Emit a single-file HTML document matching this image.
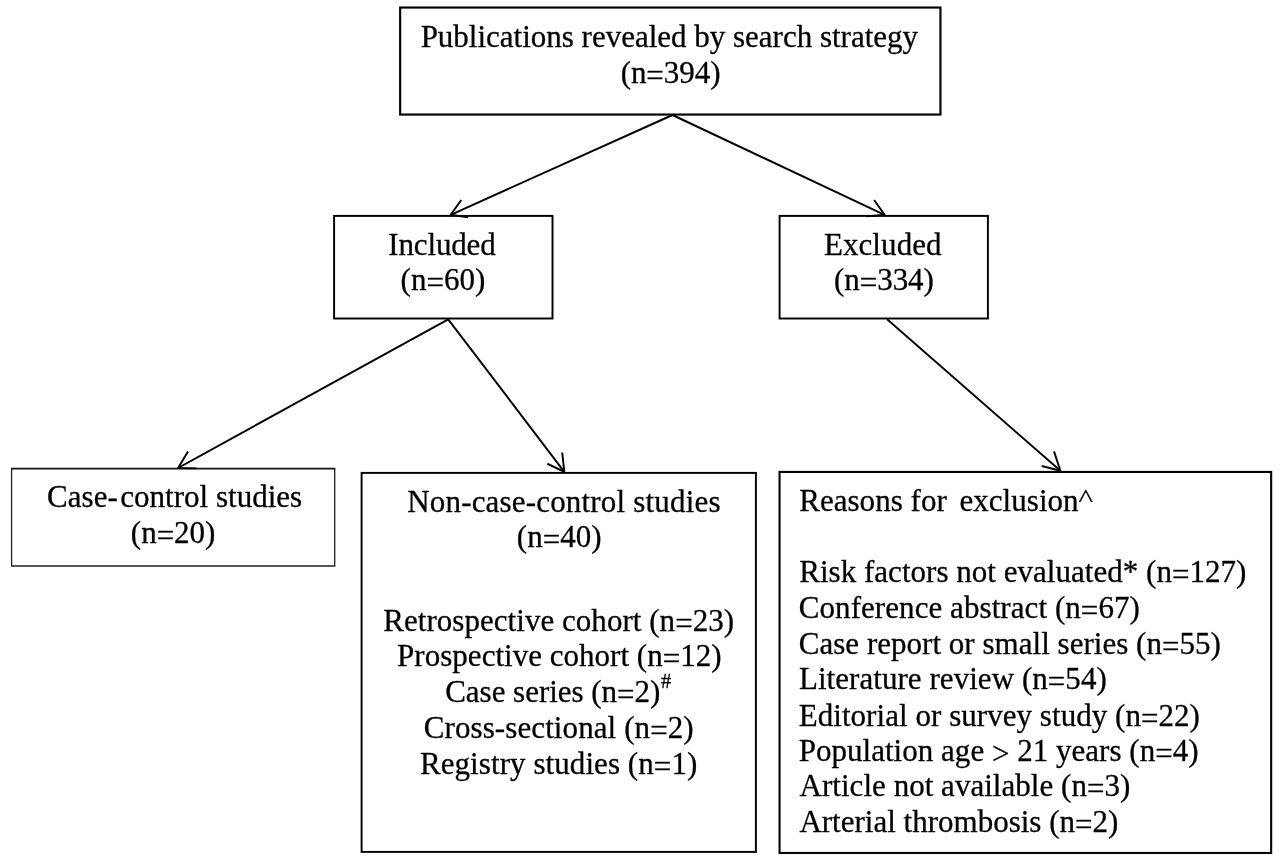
<!DOCTYPE html>
<html lang="en">
<head>
<meta charset="utf-8">
<title>Study selection flowchart</title>
<style>
html,body{margin:0;padding:0;background:#fff;}
body{width:1280px;height:861px;overflow:hidden;}
svg{display:block;will-change:transform;opacity:0.999;}
text{white-space:pre;}
</style>
</head>
<body>
<svg width="1280" height="861" viewBox="0 0 1280 861" role="img" aria-label="Study selection flowchart">
<g fill="none" stroke="#000">
<rect x="400.15" y="7.55" width="540.30" height="107.00" stroke-width="2.15" stroke="#000"/>
<rect x="334.10" y="215.90" width="218.40" height="102.60" stroke-width="1.95" stroke="#000"/>
<rect x="779.60" y="215.90" width="208.30" height="102.60" stroke-width="1.95" stroke="#000"/>
<rect x="361.60" y="472.90" width="394.30" height="379.00" stroke-width="1.95" stroke="#000"/>
<rect x="779.55" y="471.95" width="491.60" height="381.00" stroke-width="2.1" stroke="#000"/>
<g stroke="#222">
<path d="M11.6 468.5V566H334.7V468.5" stroke-width="1.3"/>
<path d="M11 468.65H335.3" stroke-width="1.9" stroke="#111"/>
</g>
</g>
<g fill="none" stroke="#000" stroke-width="1.95" stroke-linecap="butt" stroke-linejoin="round">
<line x1="672.5" y1="115" x2="450.7" y2="214.8"/><polyline points="461.3,200.0 450.7,214.8 468.0,217.4"/>
<line x1="672.5" y1="115" x2="884.6" y2="214.8"/><polyline points="874.1,200.0 884.6,214.8 866.4,216.4"/>
<line x1="448.2" y1="319.3" x2="178.1" y2="468.0"/><polyline points="188.0,451.4 178.1,468.0 196.6,468.4"/>
<line x1="448.2" y1="319.3" x2="564.3" y2="471.8"/><polyline points="562.2,452.5 564.3,471.8 547.4,463.75"/>
<line x1="887.1" y1="319.3" x2="1060.4" y2="470.8"/><polyline points="1054.0,451.4 1060.4,470.8 1041.7,466.0"/>
</g>
<g font-family="'Liberation Serif', 'Times New Roman', Times, serif" font-size="31" fill="#000" stroke="#000" stroke-width="0.3" stroke-linejoin="round">
<text id="pub" x="420.63" y="46.70" textLength="497.37" lengthAdjust="spacing">Publications revealed by search strategy</text>
<text id="n394" x="620.64" y="82.70" textLength="99.83" lengthAdjust="spacing">(n<tspan dy="3">=</tspan><tspan dy="-3">394)</tspan></text>
<text id="inc" x="388.29" y="255.00" textLength="107.40" lengthAdjust="spacing">Included</text>
<text id="n60" x="400.57" y="289.80" textLength="84.74" lengthAdjust="spacing">(n<tspan dy="3">=</tspan><tspan dy="-3">60)</tspan></text>
<text id="exc" x="823.92" y="254.90" textLength="117.68" lengthAdjust="spacing">Excluded</text>
<text id="n334" x="834.00" y="289.80" textLength="99.88" lengthAdjust="spacing">(n<tspan dy="3">=</tspan><tspan dy="-3">334)</tspan></text>
<text id="cc" x="47.12" y="506.70" textLength="255.07" lengthAdjust="spacing">Case-<tspan dx="2.4">control studies</tspan></text>
<text id="n20" x="130.87" y="542.50" textLength="84.46" lengthAdjust="spacing">(n<tspan dy="3">=</tspan><tspan dy="-3">20)</tspan></text>
<text id="ncc" x="407.22" y="511.90" textLength="313.28" lengthAdjust="spacing">Non-case-control studies</text>
<text id="n40" x="516.87" y="546.80" textLength="84.66" lengthAdjust="spacing">(n<tspan dy="3">=</tspan><tspan dy="-3">40)</tspan></text>
<text id="retro" x="383.22" y="630.90" textLength="350.85" lengthAdjust="spacing">Retrospective cohort (n<tspan dy="3">=</tspan><tspan dy="-3">23)</tspan></text>
<text id="prosp" x="397.10" y="666.10" textLength="324.49" lengthAdjust="spacing">Prospective cohort (n<tspan dy="3">=</tspan><tspan dy="-3">12)</tspan></text>
<text id="cs" x="445.20" y="701.80" textLength="215.15" lengthAdjust="spacing">Case series (n<tspan dy="3">=</tspan><tspan dy="-3">2)</tspan></text>
<text id="hash" class="sup" x="661.0" y="687.6" font-size="20.5">#</text>
<text id="xs" x="423.77" y="737.60" textLength="269.84" lengthAdjust="spacing">Cross-sectional (n<tspan dy="3">=</tspan><tspan dy="-3">2)</tspan></text>
<text id="reg" x="419.96" y="773.90" textLength="277.32" lengthAdjust="spacing">Registry studies (n<tspan dy="3">=</tspan><tspan dy="-3">1)</tspan></text>
<text id="reas" x="799.16" y="510.70" textLength="279.43" lengthAdjust="spacing">Reasons for<tspan dx="4.8"> exclusion</tspan></text>
<text id="caret" class="sup" transform="translate(1078.6,506.8) scale(1,0.813)" x="0" y="0">^</text>
<text id="risk" x="799.22" y="582.10" textLength="447.14" lengthAdjust="spacing">Risk factors not evaluated* (n<tspan dy="3">=</tspan><tspan dy="-3">127)</tspan></text>
<text id="conf" x="798.77" y="617.50" textLength="341.06" lengthAdjust="spacing">Conference abstract (n<tspan dy="3">=</tspan><tspan dy="-3">67)</tspan></text>
<text id="crep" x="798.77" y="653.50" textLength="422.05" lengthAdjust="spacing">Case report or small series (n<tspan dy="3">=</tspan><tspan dy="-3">55)</tspan></text>
<text id="lit" x="798.92" y="688.90" textLength="307.86" lengthAdjust="spacing">Literature review (n<tspan dy="3">=</tspan><tspan dy="-3">54)</tspan></text>
<text id="edit" x="798.72" y="725.50" textLength="401.19" lengthAdjust="spacing">Editorial or survey study (n<tspan dy="3">=</tspan><tspan dy="-3">22)</tspan></text>
<text id="pop" x="798.70" y="760.90" textLength="399.86" lengthAdjust="spacing">Population age <tspan dy="3">&gt;</tspan><tspan dy="-3"> 21 years (n</tspan><tspan dy="3">=</tspan><tspan dy="-3">4)</tspan></text>
<text id="art" x="799.55" y="796.10" textLength="330.74" lengthAdjust="spacing">Article not available (n<tspan dy="3">=</tspan><tspan dy="-3">3)</tspan></text>
<text id="artr" x="799.40" y="832.30" textLength="318.88" lengthAdjust="spacing">Arterial thrombosis (n<tspan dy="3">=</tspan><tspan dy="-3">2)</tspan></text>
</g>
</svg>
</body>
</html>
